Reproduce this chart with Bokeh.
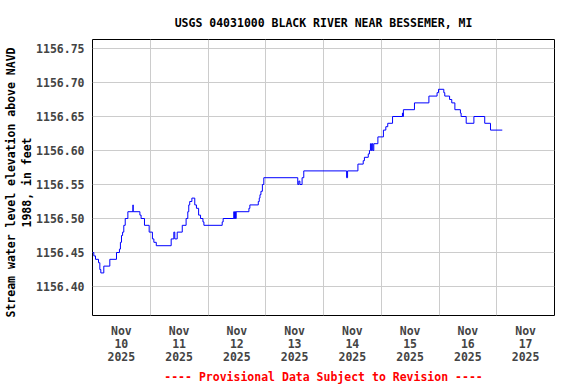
from bokeh.plotting import figure
from bokeh.models import FixedTicker, Range1d, Title
from bokeh.embed import file_html
from bokeh.resources import INLINE

title_text = "USGS 04031000 BLACK RIVER NEAR BESSEMER, MI"
y_label_lines = ["Stream water level elevation above NAVD", "1988, in feet"]
note_text = "---- Provisional Data Subject to Revision ----"

# hours since 2025-11-10 00:00 at which the reading changes
hours = [0.0, 0.55, 1.25, 2.5, 3.05, 3.46, 4.7, 7.2, 9.97, 11.2, 11.6, 12.05, 12.5, 13.0,
         13.6, 14.7, 16.8, 16.9, 19.7, 20.2, 21.6, 23.55, 24.9, 25.5, 26.5, 32.7, 33.8,
         34.2, 35.2, 37.3, 38.9, 39.6, 40.0, 40.4, 41.3, 42.5, 43.2, 44.1, 44.9, 45.9,
         46.3, 53.9, 54.3, 58.7, 59.0, 59.3, 59.5, 59.7, 65.0, 65.4, 68.9, 69.3, 69.6,
         70.0, 70.6, 71.2, 85.3, 85.75, 86.2, 87.1, 87.8, 105.6, 106.0, 110.3, 112.5,
         113.0, 114.6, 115.1, 115.5, 115.9, 116.2, 116.5, 116.9, 118.6, 120.9, 121.9,
         122.7, 124.7, 128.8, 129.0, 129.2, 133.8, 139.8, 143.2, 143.8, 146.0, 146.4,
         148.4, 149.3, 150.6, 152.9, 153.2, 155.3, 158.5, 163.0, 165.4, 170.3]
stage = [1156.45, 1156.445, 1156.44, 1156.435, 1156.425, 1156.42, 1156.43, 1156.44,
         1156.45, 1156.455, 1156.465, 1156.475, 1156.48, 1156.49, 1156.50, 1156.51,
         1156.52, 1156.51, 1156.505, 1156.50, 1156.49, 1156.48, 1156.47, 1156.465,
         1156.46, 1156.47, 1156.48, 1156.47, 1156.48, 1156.49, 1156.50, 1156.51, 1156.52,
         1156.525, 1156.53, 1156.52, 1156.515, 1156.505, 1156.50, 1156.495, 1156.49,
         1156.495, 1156.50, 1156.51, 1156.50, 1156.51, 1156.50, 1156.51, 1156.515,
         1156.52, 1156.525, 1156.53, 1156.535, 1156.54, 1156.55, 1156.56, 1156.55,
         1156.555, 1156.55, 1156.56, 1156.57, 1156.56, 1156.57, 1156.58, 1156.585,
         1156.59, 1156.595, 1156.60, 1156.61, 1156.60, 1156.61, 1156.60, 1156.61, 1156.62,
         1156.63, 1156.635, 1156.64, 1156.65, 1156.655, 1156.65, 1156.66, 1156.67,
         1156.68, 1156.685, 1156.69, 1156.685, 1156.68, 1156.675, 1156.67, 1156.66,
         1156.655, 1156.65, 1156.64, 1156.65, 1156.64, 1156.63, 1156.63]

tick_hours = [12, 36, 60, 84, 108, 132, 156, 180]
tick_labels = ["Nov\n10\n2025", "Nov\n11\n2025", "Nov\n12\n2025", "Nov\n13\n2025",
               "Nov\n14\n2025", "Nov\n15\n2025", "Nov\n16\n2025", "Nov\n17\n2025"]
grid_hours = [24, 48, 72, 96, 120, 144, 168]
y_ticks = [1156.40, 1156.45, 1156.50, 1156.55, 1156.60, 1156.65, 1156.70, 1156.75]

FONT = "DejaVu Sans Mono"
FS = "11.5px"
W, H = 576, 384

p = figure(width=W, height=H, output_backend="svg", toolbar_location=None,
           x_range=Range1d(0, 192), y_range=Range1d(1156.3574, 1156.7632),
           min_border_left=92, min_border_right=22, min_border_top=39,
           min_border_bottom=69, title=title_text)

p.step(hours, stage, mode="after", line_color="#0000ff", line_width=1)

p.title.align = "center"
p.title.text_font = FONT
p.title.text_font_size = FS
p.title.text_font_style = "bold"
p.title.text_color = "black"
p.title.standoff = 20

p.outline_line_color = "black"
p.outline_line_width = 1
p.background_fill_color = "white"
p.border_fill_color = "white"

xa = p.xaxis[0]
xa.ticker = FixedTicker(ticks=tick_hours)
xa.major_label_overrides = {h: lab for h, lab in zip(tick_hours, tick_labels)}
xa.major_label_text_font = FONT
xa.major_label_text_font_size = FS
xa.major_label_text_font_style = "bold"
xa.major_label_text_line_height = 0.95
xa.major_label_standoff = 2
xa.major_tick_line_color = None
xa.minor_tick_line_color = None
xa.axis_line_color = None

ya = p.yaxis[0]
ya.ticker = FixedTicker(ticks=y_ticks)
ya.major_label_overrides = {v: f"{v:.2f}" for v in y_ticks}
ya.major_label_text_font = FONT
ya.major_label_text_font_size = FS
ya.major_label_text_font_style = "bold"
ya.major_label_standoff = 8
ya.major_tick_out = 0
ya.major_tick_in = 0
ya.minor_tick_out = 0
ya.major_tick_line_color = None
ya.minor_tick_line_color = None
ya.axis_line_color = None

# y-axis title, inner line first; each line centred about 182px from the top
for txt, off in zip(reversed(y_label_lines), [88, -2]):
    p.add_layout(Title(text=txt, align="left", text_font=FONT, text_font_size=FS,
                       text_font_style="bold", text_color="black", standoff=0,
                       offset=off), "left")

p.add_layout(Title(text=note_text, align="center", text_font=FONT, text_font_size=FS,
                   text_font_style="bold", text_color="red", standoff=1), "below")

p.xgrid.ticker = FixedTicker(ticks=grid_hours)
p.ygrid.ticker = FixedTicker(ticks=y_ticks)
p.xgrid.grid_line_color = "#cccccc"
p.ygrid.grid_line_color = "#cccccc"

open("out.html", "w").write(file_html(p, INLINE))
